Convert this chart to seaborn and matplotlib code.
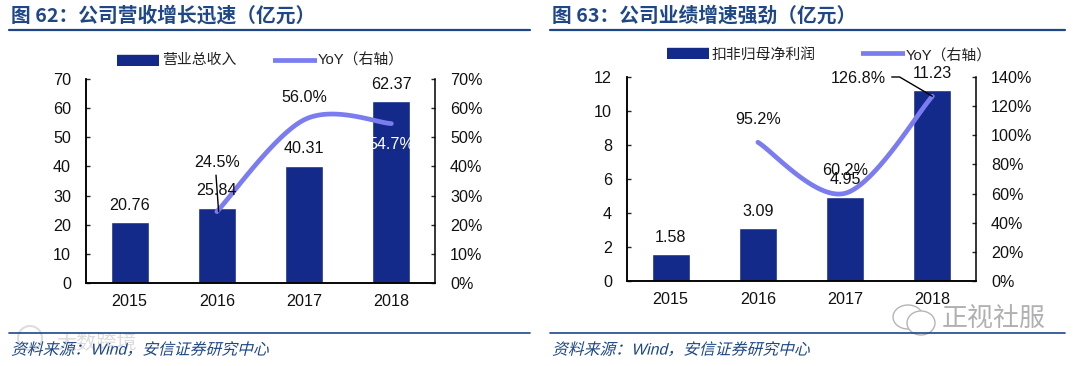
import numpy as np
import pandas as pd
import matplotlib
matplotlib.use('Agg')
import matplotlib.pyplot as plt
import matplotlib.patheffects as pe
from matplotlib.patches import Ellipse
from matplotlib.transforms import Affine2D
import seaborn as sns

sns.set_style('white')
plt.rcParams['font.family'] = ['Liberation Sans', 'Noto Sans CJK SC', 'DejaVu Sans']

years = ['2015', '2016', '2017', '2018']

revenue = [20.76, 25.84, 40.31, 62.37]
revenue_yoy = [None, 24.5, 56.0, 54.7]
profit = [1.58, 3.09, 4.95, 11.23]
profit_yoy = [None, 95.2, 60.2, 126.8]

title_left = '图 62：公司营收增长迅速（亿元）'
title_right = '图 63：公司业绩增速强劲（亿元）'
source = '资料来源：Wind，安信证券研究中心'
legend_left = '营业总收入'
legend_right = '扣非归母净利润'
legend_line = 'YoY（右轴）'

NAVY = '#142a8a'
LINE = '#7b7cf0'
BLUE = '#1f4788'
INK = '#111111'
W, H = 1080, 366
FS = 11.6


def box(x0, y0, x1, y1):
    return [x0 / W, 1 - y1 / H, (x1 - x0) / W, (y1 - y0) / H]


def smooth(xs, ys, n=40):
    # same kind of smoothing as an Excel line, only for the drawn curve
    xs = np.array(xs, dtype=float)
    ys = np.array(ys, dtype=float)
    px = np.r_[xs[0], xs, xs[-1]]
    py = np.r_[ys[0], ys, ys[-1]]
    ox, oy = [], []
    for i in range(1, len(px) - 2):
        t = np.linspace(0, 1, n)
        for p, o in ((px, ox), (py, oy)):
            o.extend(0.5 * (2 * p[i] + (p[i + 1] - p[i - 1]) * t
                            + (2 * p[i - 1] - 5 * p[i] + 4 * p[i + 1] - p[i + 2]) * t ** 2
                            + (3 * p[i] - p[i - 1] - 3 * p[i + 1] + p[i + 2]) * t ** 3))
    return ox, oy


class Slant(pe.AbstractPathEffect):
    # CJK fonts have no italic, so lean the glyphs
    def draw_path(self, renderer, gc, tpath, affine, rgbFace=None):
        renderer.draw_path(gc, tpath, Affine2D().skew_deg(14, 0) + affine, rgbFace)


def panel(fig, pos, bars, yoy, ymax, ystep, rmax, rstep):
    ax = fig.add_axes(box(*pos))
    df = pd.DataFrame({'year': years, 'value': bars})
    sns.barplot(data=df, x='year', y='value', color=NAVY, saturation=1, width=0.435, ax=ax)
    ax.set_xlim(-0.5, 3.5)
    ax.set_ylim(0, ymax)
    ax.set_xlabel('')
    ax.set_ylabel('')
    ax.set_yticks(np.arange(0, ymax + 1, ystep))
    ax.set_xticks([0.5, 1.5, 2.5], minor=True)
    ax.tick_params(axis='x', which='major', length=0, labelsize=FS, pad=8, labelcolor=INK)
    ax.tick_params(axis='x', which='minor', direction='in', length=3, width=1, color='black')
    ax.tick_params(axis='y', direction='in', left=True, length=3, width=1, labelsize=FS, pad=10.8, labelcolor=INK)
    ax.spines['top'].set_visible(False)
    ax.spines['right'].set_visible(False)

    ax2 = ax.twinx()
    xs = [i for i, v in enumerate(yoy) if v is not None]
    ys = [v for v in yoy if v is not None]
    lx, ly = smooth(xs, ys)
    sns.lineplot(x=lx, y=ly, color=LINE, lw=3.4, ax=ax2, sort=False, solid_capstyle='round')
    ax2.set_ylim(0, rmax)
    ax2.set_yticks(np.arange(0, rmax + 1, rstep))
    ax2.set_yticklabels([f'{v}%' for v in range(0, rmax + 1, rstep)])
    ax2.tick_params(axis='y', direction='in', right=True, length=3, width=1, labelsize=FS, pad=10.8, labelcolor=INK)
    ax2.set_ylabel('')
    ax2.spines['top'].set_visible(False)
    for a in (ax, ax2):
        for s in a.spines.values():
            s.set_color('black')
            s.set_linewidth(1.1)
    return ax, ax2


fig = plt.figure(figsize=(W / 100, H / 100), dpi=100)

ax, ax2 = panel(fig, (86, 79, 435, 283), revenue, revenue_yoy, 70, 10, 70, 10)
ax3, ax4 = panel(fig, (627, 77, 976, 281), profit, profit_yoy, 12, 2, 140, 20)

# bar labels sit on the twin axes so they stay above the line
for i, v in enumerate(revenue):
    ax2.annotate(f'{v:.2f}', (i, v), xytext=(0, 12.2), textcoords='offset points',
                 ha='center', va='center', fontsize=FS, color=INK, zorder=6, annotation_clip=False)
for i, v in enumerate(profit):
    ax4.annotate(f'{v:.2f}', (i, v * 140 / 12), xytext=(0, 12.2), textcoords='offset points',
                 ha='center', va='center', fontsize=FS, color=INK, zorder=6, annotation_clip=False)

# yoy labels, left chart
ax2.text(1, 41.4, f'{revenue_yoy[1]}%', ha='center', va='center', fontsize=FS, color=INK)
ax2.annotate('', (1.02, revenue_yoy[1]), xytext=(0.99, 37),
             arrowprops=dict(arrowstyle='-', lw=1, color='black', shrinkA=0, shrinkB=0))
ax2.text(2, 63.5, f'{revenue_yoy[2]}%', ha='center', va='center', fontsize=FS, color=INK)
ax2.text(3, 47.4, f'{revenue_yoy[3]}%', ha='center', va='center', fontsize=FS, color='white', zorder=6)

# yoy labels, right chart
ax4.text(1, 110.5, f'{profit_yoy[1]}%', ha='center', va='center', fontsize=FS, color=INK)
ax4.text(2, 75.5, f'{profit_yoy[2]}%', ha='center', va='center', fontsize=FS, color=INK)
ax4.text(2.148, 139.3, f'{profit_yoy[3]}%', ha='center', va='center', fontsize=FS, color=INK, clip_on=False)
ax4.plot([2.534, 2.625, 3], [140, 140, profit_yoy[3]], color='black', lw=1, clip_on=False, zorder=5)

# legends: swatch start, swatch end, text start, swatch y, text y
for label, x0, x1, tx, y, ty, kind in [(legend_left, 117, 159, 162, 60, 60, 'bar'),
                                       (legend_line, 273, 317, 318, 60, 60, 'line'),
                                       (legend_right, 667, 709, 712, 53, 56, 'bar'),
                                       (legend_line, 861, 905, 906, 53, 56, 'line')]:
    lax = fig.add_axes(box(x0, y - 6, x1, y + 6))
    lax.axis('off')
    lax.set_xlim(0, 1)
    lax.set_ylim(0, 1)
    if kind == 'bar':
        lax.axhspan(0.08, 0.92, color=NAVY)
    else:
        lax.axhline(0.5, color=LINE, lw=3.4, solid_capstyle='round')
    fig.text(tx / W, 1 - ty / H, label, fontsize=10.7, color='#222222', va='center', ha='left')

# watermarks go under the source line
fig.text(56 / W, 1 - 343 / H, '大数跨境', fontsize=14.5, color='#dcdcdc', va='center', ha='left', zorder=0)
fig.add_artist(Ellipse((30 / W, 1 - 338 / H), 24 / W, 24 / H, fill=False, ec='#dddddd', lw=1.5, transform=fig.transFigure, zorder=0))
fig.add_artist(Ellipse((908 / W, 1 - 317 / H), 30 / W, 24 / H, fill=False, ec='#b5b5b5', lw=1, transform=fig.transFigure))
fig.add_artist(Ellipse((921 / W, 1 - 323 / H), 28 / W, 24 / H, fc='white', ec='#b5b5b5', lw=1, transform=fig.transFigure))
fig.text(942 / W, 1 - 319 / H, '正视社服', fontsize=18.7, color='#b0b0b0', va='center', ha='left')

# titles, rules and source lines
for x0, x1, t, tx in [(9, 530, title_left, 11), (550, 1065, title_right, 552)]:
    fig.text(tx / W, 1 - 16 / H, t, fontsize=14.2, fontweight='bold', color=BLUE, va='center', ha='left',
             family=['Noto Sans CJK SC', 'DejaVu Sans'])
    fig.add_artist(plt.Line2D([x0 / W, x1 / W], [1 - 30 / H] * 2, color=BLUE, lw=1.6))
    fig.add_artist(plt.Line2D([x0 / W, x1 / W], [1 - 333 / H] * 2, color=BLUE, lw=1.2))
    fig.text(tx / W, 1 - 350 / H, source, fontsize=11.4, color=BLUE, va='center', ha='left',
             path_effects=[Slant()])

fig.savefig('out.png', dpi=100)
